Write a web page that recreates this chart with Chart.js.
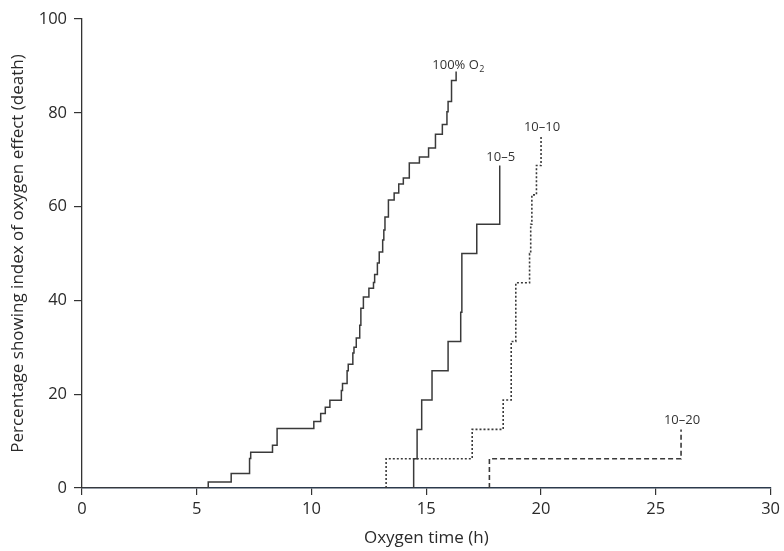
<!DOCTYPE html>
<html>
<head>
<meta charset="utf-8">
<script src="https://cdn.jsdelivr.net/npm/chart.js@4/dist/chart.umd.min.js"></script>
<style>
  html, body { margin: 0; padding: 0; background: #fff; }
  #wrap { width: 784px; height: 551px; }
</style>
</head>
<body>
<div id="wrap"><canvas id="c" width="784" height="551"></canvas></div>
<script>
// Oxygen time (h) at each step and cumulative percentage after the step
const o2Times  = [0, 5.5, 6.5, 7.3, 7.35, 8.3, 8.5, 10.1, 10.4, 10.6, 10.8, 11.3, 11.35, 11.55, 11.6, 11.8, 11.85, 11.95, 12.1, 12.15, 12.26, 12.5, 12.7, 12.75, 12.87, 12.95, 13.1, 13.15, 13.2, 13.35, 13.6, 13.8, 14.0, 14.26, 14.7, 15.1, 15.4, 15.7, 15.9, 15.95, 16.1, 16.3];
const o2Values = [0, 1.3, 3.1, 6.3, 7.6, 9.1, 12.7, 14.2, 15.9, 17.2, 18.7, 20.8, 22.3, 25.0, 26.4, 28.8, 30.0, 32.0, 34.7, 38.3, 40.7, 42.6, 43.8, 45.5, 48.0, 50.3, 52.9, 55.0, 57.8, 61.4, 62.9, 64.8, 66.1, 69.3, 70.6, 72.5, 75.4, 77.5, 80.2, 82.4, 86.9, 88.8];

const t105Times  = [14.45, 14.45, 14.6, 14.8, 15.25, 15.95, 16.5, 16.55, 17.2, 18.2];
const t105Values = [0, 6.25, 12.5, 18.75, 25.0, 31.25, 37.5, 50.0, 56.25, 68.75];

const t1010Times  = [13.25, 13.25, 17.0, 18.35, 18.7, 18.9, 19.5, 19.55, 19.6, 19.8, 20.0];
const t1010Values = [0, 6.25, 12.5, 18.75, 31.25, 43.75, 50.0, 56.25, 62.5, 68.75, 75.0];

const t1020Times  = [17.75, 17.75, 26.1];
const t1020Values = [0, 6.25, 12.5];

const seriesNames = ['100% O2', '10\u20135', '10\u201310', '10\u201320'];
const xTicks = [0, 5, 10, 15, 20, 25, 30];
const yTicks = [0, 20, 40, 60, 80, 100];

const toPts = (xs, ys) => xs.map((x, i) => ({x: x, y: ys[i]}));
const FONT = "'Open Sans', 'Noto Sans', sans-serif";
const INK = '#3a3a3a';

const labelPlugin = {
  id: 'endLabels',
  afterDatasetsDraw(chart) {
    const ctx = chart.ctx;
    const xs = chart.scales.x, ys = chart.scales.y;
    ctx.save();
    ctx.fillStyle = '#333';
    ctx.textBaseline = 'alphabetic';
    chart.data.datasets.forEach((ds, i) => {
      const last = ds.data[ds.data.length - 1];
      const px = xs.getPixelForValue(last.x);
      const py = ys.getPixelForValue(last.y);
      if (i === 0) {
        const main = '100% O';
        ctx.font = "13px " + FONT;
        const w1 = ctx.measureText(main).width;
        ctx.font = "9px " + FONT;
        const w2 = ctx.measureText('2').width;
        const left = px + 2 - (w1 + w2) / 2;
        ctx.font = "13px " + FONT;
        ctx.textAlign = 'left';
        ctx.fillText(main, left, py - 3);
        ctx.font = "9px " + FONT;
        ctx.fillText('2', left + w1 + 0.5, py);
      } else {
        ctx.font = "13px " + FONT;
        ctx.textAlign = 'center';
        ctx.fillText(ds.label, px + 1, py - 5);
      }
    });
    ctx.restore();
  }
};

new Chart(document.getElementById('c'), {
  type: 'line',
  data: {
    datasets: [
      { label: seriesNames[0], data: toPts(o2Times, o2Values), borderColor: INK, borderWidth: 1.5, stepped: 'before', pointRadius: 0, fill: false },
      { label: seriesNames[1], data: toPts(t105Times, t105Values), borderColor: INK, borderWidth: 1.5, stepped: 'before', pointRadius: 0, fill: false },
      { label: seriesNames[2], data: toPts(t1010Times, t1010Values), borderColor: INK, borderWidth: 1.6, borderDash: [2, 2], stepped: 'before', pointRadius: 0, fill: false },
      { label: seriesNames[3], data: toPts(t1020Times, t1020Values), borderColor: INK, borderWidth: 1.6, borderDash: [5, 3], stepped: 'before', pointRadius: 0, fill: false }
    ]
  },
  options: {
    responsive: false,
    animation: false,
    events: [],
    layout: { padding: { top: 19, right: 13, bottom: 0, left: 0 } },
    plugins: { legend: { display: false }, tooltip: { enabled: false } },
    scales: {
      x: {
        type: 'linear', min: 0, max: 30,
        afterBuildTicks: s => { s.ticks = xTicks.map(v => ({value: v})); },
        afterFit: s => { s.height = 63; },
        grid: { display: true, drawOnChartArea: false, drawTicks: true, tickLength: 7, color: '#333', lineWidth: 1.2 },
        border: { display: true, color: '#2c3a4c', width: 1.6 },
        ticks: { font: { family: FONT, size: 16.5 }, color: '#2a2a2a', padding: 4, maxRotation: 0 },
        title: { display: true, text: 'Oxygen time (h)', font: { family: FONT, size: 17 }, color: '#2a2a2a', padding: { top: 0, bottom: 3 } }
      },
      y: {
        type: 'linear', min: 0, max: 100,
        afterBuildTicks: s => { s.ticks = yTicks.map(v => ({value: v})); },
        afterFit: s => { s.width = 82; },
        grid: { display: true, drawOnChartArea: false, drawTicks: true, tickLength: 8, color: '#333', lineWidth: 1.2 },
        border: { display: true, color: '#333', width: 1.3 },
        ticks: { font: { family: FONT, size: 16.5 }, color: '#2a2a2a', padding: 7 },
        title: { display: true, text: 'Percentage showing index of oxygen effect (death)', font: { family: FONT, size: 17 }, color: '#2a2a2a', padding: { top: 8, bottom: 0 } }
      }
    }
  },
  plugins: [labelPlugin]
});
</script>
</body>
</html>
